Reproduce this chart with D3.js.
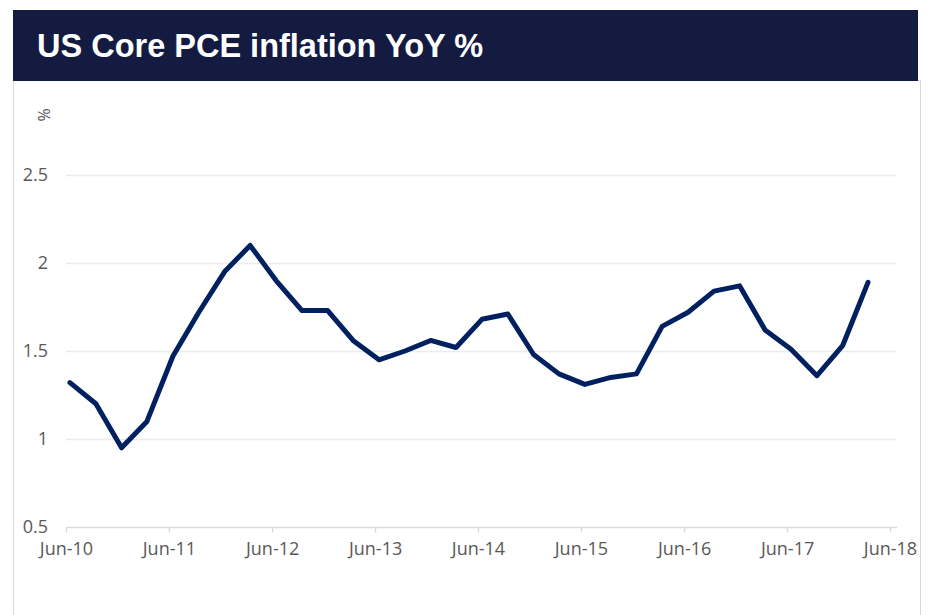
<!DOCTYPE html>
<html>
<head>
<meta charset="utf-8">
<script src="https://cdn.jsdelivr.net/npm/d3@7"></script>
<style>
  body { margin: 0; background: #fff; }
  svg { display: block; }
</style>
</head>
<body>
<div id="chart"></div>
<script>
// quarterly core PCE YoY %, Jun-10 .. Mar-18
const quarters = [
  "2010-06", "2010-09", "2010-12", "2011-03", "2011-06", "2011-09", "2011-12", "2012-03",
  "2012-06", "2012-09", "2012-12", "2013-03", "2013-06", "2013-09", "2013-12", "2014-03",
  "2014-06", "2014-09", "2014-12", "2015-03", "2015-06", "2015-09", "2015-12", "2016-03",
  "2016-06", "2016-09", "2016-12", "2017-03", "2017-06", "2017-09", "2017-12", "2018-03"
];
const corePce = [
  1.32, 1.20, 0.95, 1.10, 1.47, 1.72, 1.95, 2.10,
  1.90, 1.73, 1.73, 1.56, 1.45, 1.50, 1.56, 1.52,
  1.68, 1.71, 1.48, 1.37, 1.31, 1.35, 1.37, 1.64,
  1.72, 1.84, 1.87, 1.62, 1.51, 1.36, 1.53, 1.89
];
const yTicks = [0.5, 1, 1.5, 2, 2.5];
const xTickYears = [2010, 2011, 2012, 2013, 2014, 2015, 2016, 2017, 2018];

const W = 932, H = 615;
const svg = d3.select('#chart').append('svg')
  .attr('width', W)
  .attr('height', H);

// panel border + title bar
svg.append('rect')
  .attr('x', 13.5).attr('y', 80.5)
  .attr('width', 907).attr('height', 560)
  .attr('fill', '#fff')
  .attr('stroke', '#d9d9d9');

svg.append('rect')
  .attr('x', 13).attr('y', 10)
  .attr('width', 905).attr('height', 71)
  .attr('fill', '#131b41');

svg.append('text')
  .attr('x', 37).attr('y', 57)
  .attr('fill', '#fff')
  .attr('font-family', 'Liberation Sans, Arial, sans-serif')
  .attr('font-weight', 'bold')
  .attr('font-size', 32.5)
  .text('US Core PCE inflation YoY %');

const parse = d3.timeParse('%Y-%m-%d');
const data = quarters.map((q, i) => ({ date: parse(q + '-15'), value: corePce[i] }));

const x = d3.scaleTime()
  .domain([new Date(2010, 5, 1), new Date(2018, 5, 1)])
  .range([66, 890]);

const y = d3.scaleLinear()
  .domain([0.5, 2.5])
  .range([527, 175]);

const font = 'Open Sans, Liberation Sans, sans-serif';
const labelColor = '#595959';

// gridlines
svg.append('g')
  .selectAll('line')
  .data(yTicks.filter(d => d > 0.5))
  .join('line')
  .attr('x1', 66).attr('x2', 896)
  .attr('y1', d => Math.round(y(d)) + 0.5)
  .attr('y2', d => Math.round(y(d)) + 0.5)
  .attr('stroke', '#ececec')
  .attr('stroke-width', 1.3);

// y labels
svg.append('g')
  .selectAll('text')
  .data(yTicks)
  .join('text')
  .attr('x', 48)
  .attr('y', d => y(d))
  .attr('dy', '0.35em')
  .attr('text-anchor', 'end')
  .attr('font-family', font)
  .attr('font-size', 18)
  .attr('fill', labelColor)
  .text(d => d);

svg.append('text')
  .attr('transform', 'translate(44,115) rotate(-90)')
  .attr('text-anchor', 'middle')
  .attr('dy', '0.35em')
  .attr('font-family', font)
  .attr('font-size', 16)
  .attr('fill', labelColor)
  .text('%');

// x axis
const xTickDates = xTickYears.map(yr => new Date(yr, 5, 1));
const xAxis = d3.axisBottom(x)
  .tickValues(xTickDates)
  .tickFormat(d3.timeFormat('Jun-%y'))
  .tickSizeInner(5)
  .tickSizeOuter(0)
  .tickPadding(10);

const xAxisG = svg.append('g')
  .attr('transform', `translate(0, ${Math.round(y(0.5)) + 0.5})`)
  .call(xAxis);

xAxisG.select('.domain')
  .attr('d', 'M66,0H897')
  .attr('stroke', '#d9d9d9')
  .attr('stroke-width', 1.3);
xAxisG.selectAll('.tick line')
  .attr('stroke', '#d9d9d9')
  .attr('stroke-width', 1.3);
xAxisG.selectAll('.tick text')
  .attr('font-family', font)
  .attr('font-size', 18)
  .attr('fill', labelColor);

// line
const line = d3.line()
  .x(d => x(d.date))
  .y(d => y(d.value));

svg.append('path')
  .datum(data)
  .attr('fill', 'none')
  .attr('stroke', '#002060')
  .attr('stroke-width', 5)
  .attr('stroke-linejoin', 'round')
  .attr('stroke-linecap', 'round')
  .attr('d', line);
</script>
</body>
</html>
